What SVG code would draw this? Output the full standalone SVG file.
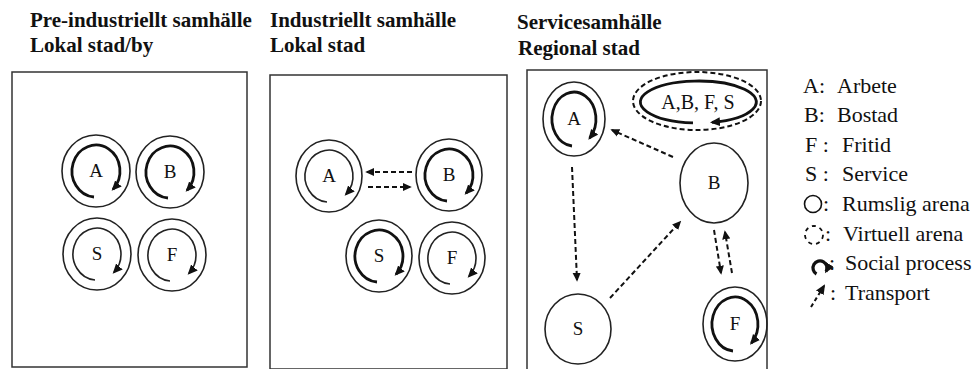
<svg xmlns="http://www.w3.org/2000/svg" width="977" height="369" viewBox="0 0 977 369">
<defs>
<style>
.title{font-family:"Liberation Serif","Times New Roman",serif;font-weight:bold;font-size:21px;fill:#111}
.box{fill:#fff;stroke:#333;stroke-width:1.5}
.outer{fill:none;stroke:#222;stroke-width:1.6}
.thin{fill:none;stroke:#222;stroke-width:1.6;marker-end:url(#ah)}
.thick{fill:none;stroke:#111;stroke-width:2.8;marker-end:url(#ah)}
.lbl{font-family:"Liberation Serif","Times New Roman",serif;font-size:19px;fill:#111;text-anchor:middle}
.conn{fill:none;stroke:#111;stroke-width:2;stroke-dasharray:5 3;marker-end:url(#ah2)}
.virt{fill:none;stroke:#111;stroke-width:2;stroke-dasharray:5 3}
.leg{font-family:"Liberation Serif","Times New Roman",serif;font-size:22px;fill:#111}
</style>
<marker id="ah" viewBox="0 0 10 10" refX="8" refY="5" markerWidth="10" markerHeight="10" markerUnits="userSpaceOnUse" orient="auto"><path d="M0,0.5 L10,5 L0,9.5 z" fill="#111"/></marker>
<marker id="ah2" viewBox="0 0 10 10" refX="8" refY="5" markerWidth="9" markerHeight="9" markerUnits="userSpaceOnUse" orient="auto"><path d="M0,0.5 L10,5 L0,9.5 z" fill="#111"/></marker>
</defs>
<rect width="977" height="369" fill="#fff"/>

<g id="titles">
<text class="title" x="30" y="27">Pre-industriellt samhälle</text>
<text class="title" x="30" y="52">Lokal stad/by</text>
<text class="title" x="270" y="27">Industriellt samhälle</text>
<text class="title" x="270" y="52">Lokal stad</text>
<text class="title" x="517" y="29">Servicesamhälle</text>
<text class="title" x="518" y="55">Regional stad</text>
</g>

<g id="panel1">
<rect class="box" x="12" y="72" width="235" height="295"/>
<g id="p1-A"><ellipse class="outer" cx="96" cy="171" rx="34" ry="36"/><path class="thick" d="M94,197 A24,26 0 1 1 113,189.4"/><text class="lbl" x="96" y="177">A</text></g>
<g id="p1-B"><ellipse class="outer" cx="170" cy="172" rx="34" ry="36"/><path class="thick" d="M168,198 A24,26 0 1 1 187,190.4"/><text class="lbl" x="170" y="178">B</text></g>
<g id="p1-S"><ellipse class="outer" cx="97" cy="254" rx="34" ry="36"/><path class="thin" d="M95,280 A24,26 0 1 1 114,272.4"/><text class="lbl" x="97" y="260">S</text></g>
<g id="p1-F"><ellipse class="outer" cx="172" cy="255" rx="34" ry="36"/><path class="thin" d="M170,281 A24,26 0 1 1 189,273.4"/><text class="lbl" x="172" y="261">F</text></g>
</g>

<g id="panel2">
<rect class="box" x="270" y="75" width="237" height="294"/>
<g id="p2-A"><ellipse class="outer" cx="329" cy="176" rx="33" ry="36"/><path class="thin" d="M327,202 A24,26 0 1 1 346,194.4"/><text class="lbl" x="329" y="182">A</text></g>
<g id="p2-B"><ellipse class="outer" cx="449" cy="175" rx="33" ry="36"/><path class="thick" d="M447,201 A24,26 0 1 1 466,193.4"/><text class="lbl" x="449" y="181">B</text></g>
<g id="p2-S"><ellipse class="outer" cx="379" cy="256" rx="33" ry="36"/><path class="thick" d="M377,282 A24,26 0 1 1 396,274.4"/><text class="lbl" x="379" y="262">S</text></g>
<g id="p2-F"><ellipse class="outer" cx="452" cy="258" rx="33" ry="36"/><path class="thin" d="M450,284 A24,26 0 1 1 469,276.4"/><text class="lbl" x="452" y="264">F</text></g>
</g>

<g id="panel3">
<rect class="box" x="527" y="70" width="240" height="300"/>
<g id="p3-A"><ellipse class="outer" cx="574" cy="119" rx="31" ry="37"/><path class="thick" d="M572,146 A22,27 0 1 1 589.6,138.1"/><text class="lbl" x="574" y="125">A</text></g>
<g id="p3-ABFS"><ellipse class="virt" cx="697" cy="101" rx="64" ry="29"/><path class="thick" d="M693,122.9 A58,21 0 1 1 712,122.4"/><text class="lbl" x="698" y="109" style="font-size:20px">A,B, F, S</text></g>
<g id="p3-B"><ellipse class="outer" cx="714" cy="183" rx="34" ry="40"/><text class="lbl" x="714" y="189">B</text></g>
<g id="p3-S"><ellipse class="outer" cx="578" cy="329" rx="33" ry="35"/><text class="lbl" x="578" y="335">S</text></g>
<g id="p3-F"><ellipse class="outer" cx="735" cy="324" rx="32" ry="37"/><path class="thick" d="M733,351 A23,27 0 1 1 751.3,343.1"/><text class="lbl" x="735" y="330">F</text></g>
</g>

<g id="connectors">
<path class="conn" d="M412,172 L367,172"/>
<path class="conn" d="M368,187 L410,187"/>
<path class="conn" d="M673,157 L612,130"/>
<path class="conn" d="M572,167 L577,280"/>
<path class="conn" d="M610,298 L680,222"/>
<path class="conn" d="M714,230 L721,273"/>
<path class="conn" d="M732,273 L725,232"/>
</g>

<g id="legend">
<text class="leg" y="93"><tspan x="803">A:</tspan><tspan x="837">Arbete</tspan></text>
<text class="leg" y="122"><tspan x="804">B:</tspan><tspan x="837">Bostad</tspan></text>
<text class="leg" y="152"><tspan x="805">F :</tspan><tspan x="842">Fritid</tspan></text>
<text class="leg" y="181"><tspan x="805">S :</tspan><tspan x="842">Service</tspan></text>
<circle cx="813" cy="204" r="8.5" fill="none" stroke="#111" stroke-width="1.6"/>
<text class="leg" y="211"><tspan x="823">:</tspan><tspan x="842">Rumslig arena</tspan></text>
<circle cx="814" cy="235" r="9" fill="none" stroke="#111" stroke-width="1.8" stroke-dasharray="4 4"/>
<text class="leg" y="241"><tspan x="825">:</tspan><tspan x="843">Virtuell arena</tspan></text>
<path d="M816.5,274 A7,7 0 1 1 826,271.5" fill="none" stroke="#111" stroke-width="3.2" marker-end="url(#ah)"/>
<text class="leg" y="270"><tspan x="829">:</tspan><tspan x="845">Social process</tspan></text>
<path d="M811,307 L824,286" fill="none" stroke="#111" stroke-width="2" stroke-dasharray="4 3" marker-end="url(#ah)"/>
<text class="leg" y="300"><tspan x="830">:</tspan><tspan x="845">Transport</tspan></text>
</g>
</svg>
